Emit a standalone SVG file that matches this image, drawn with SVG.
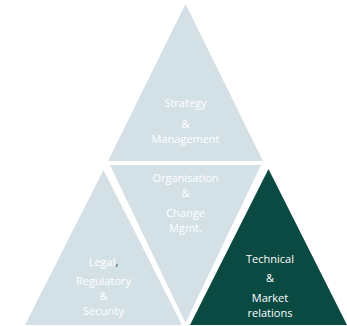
<svg xmlns="http://www.w3.org/2000/svg" width="347" height="326" viewBox="0 0 347 326">
<style>
.light{fill:#d3e1e6}
.dark{fill:#0a4a43}
text{font-family:"Open Sans","Noto Sans",sans-serif;font-size:11px;fill:#ffffff;text-anchor:middle}
</style>
<rect width="347" height="326" fill="#ffffff"/>
<g id="strategy">
<polygon class="light" points="185.5,4 263,161 108,161"/>
<text x="185.5" y="107">Strategy</text>
<text x="185.5" y="128">&amp;</text>
<text x="185.5" y="143">Management</text>
</g>
<g id="organisation">
<polygon class="light" points="110,165 261,165 185.5,323"/>
<text x="185.5" y="182">Organisation</text>
<text x="185.5" y="197">&amp;</text>
<text x="185.5" y="217">Change</text>
<text x="185.5" y="232">Mgmt.</text>
</g>
<g id="legal">
<polygon class="light" points="103.5,170 182,325 25,325"/>
<text x="103.5" y="266">Legal<tspan fill="#0a4a43">,</tspan></text>
<text x="103.5" y="285">Regulatory</text>
<text x="103.5" y="300">&amp;</text>
<text x="103.5" y="315">Security</text>
</g>
<g id="technical">
<polygon class="dark" points="268.5,169 347,325 190,325"/>
<text x="270" y="263">Technical</text>
<text x="270" y="282">&amp;</text>
<text x="270" y="302">Market</text>
<text x="270" y="317">relations</text>
</g>
<g id="connectors"></g>
</svg>
